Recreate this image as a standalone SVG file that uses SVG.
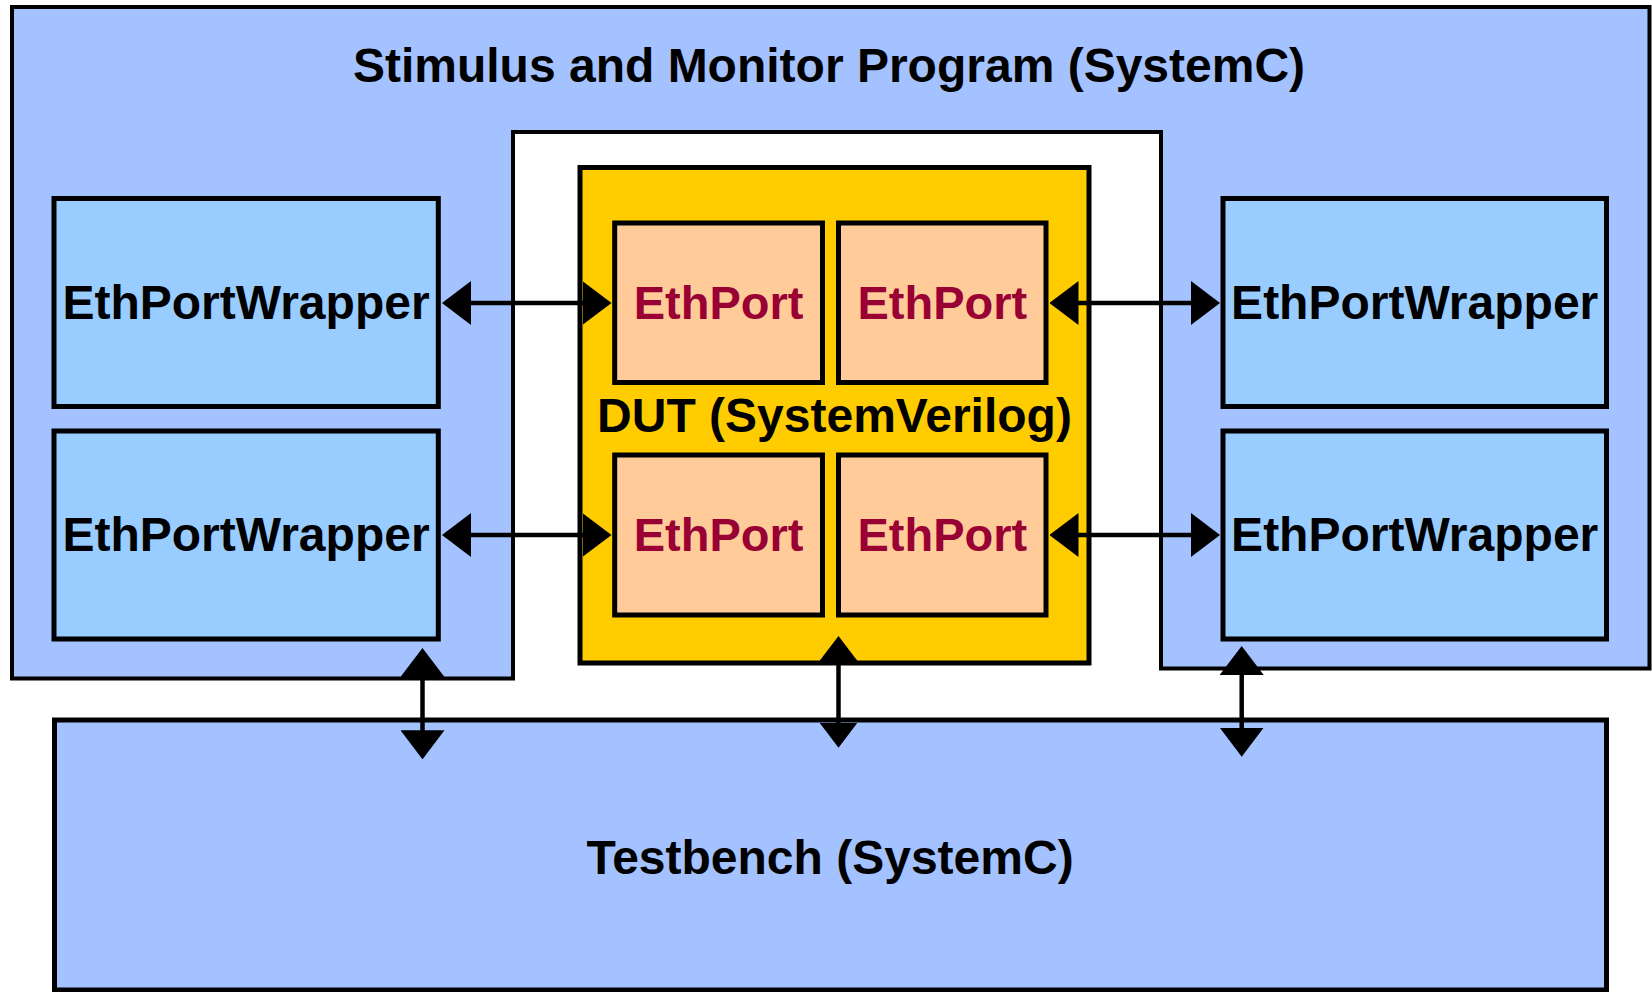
<svg xmlns="http://www.w3.org/2000/svg" width="1652" height="992" viewBox="0 0 1652 992">
  <style>
    .box { stroke: #000; stroke-width: 5; }
    .prog { fill: #A4C2FF; stroke: #000; stroke-width: 4; stroke-linejoin: miter; }
    .wrap { fill: #99CCFF; }
    .dut { fill: #FFCC00; }
    .port { fill: #FFCC99; }
    .tb { fill: #A4C2FF; }
    .lbl { font-family: "Liberation Sans", Arial, sans-serif; font-weight: bold; font-size: 48px; fill: #000; text-anchor: middle; }
    .plbl { font-family: "Liberation Sans", Arial, sans-serif; font-weight: bold; font-size: 47px; fill: #990033; text-anchor: middle; }
    .link { stroke: #000; stroke-width: 4.5; fill: none; }
  </style>
  <defs>
    <marker id="ah" viewBox="0 0 29 44" refX="26" refY="22" markerWidth="29" markerHeight="44" markerUnits="userSpaceOnUse" orient="auto-start-reverse">
      <path d="M0,0 L29,22 L0,44 z" fill="#000"/>
    </marker>
    <marker id="ahs" viewBox="0 0 25 38" refX="22" refY="19" markerWidth="25" markerHeight="38" markerUnits="userSpaceOnUse" orient="auto-start-reverse">
      <path d="M0,0 L25,19 L0,38 z" fill="#000"/>
    </marker>
  </defs>

  <rect width="1652" height="992" fill="#fff"/>

  <!-- stimulus / monitor program: outer frame with a notch around the DUT -->
  <g id="program">
    <path class="prog" d="M12,7 H1649.5 V668.5 H1161 V132 H513 V678.5 H12 Z"/>
    <text class="lbl" x="829" y="82">Stimulus and Monitor Program (SystemC)</text>
  </g>

  <g id="wrapper-l1">
    <rect class="box wrap" x="54" y="198.5" width="384.3" height="208"/>
    <text class="lbl" x="246" y="319">EthPortWrapper</text>
  </g>
  <g id="wrapper-l2">
    <rect class="box wrap" x="54" y="431" width="384.3" height="208"/>
    <text class="lbl" x="246" y="551">EthPortWrapper</text>
  </g>
  <g id="wrapper-r1">
    <rect class="box wrap" x="1223" y="198.5" width="383.5" height="208"/>
    <text class="lbl" x="1414.7" y="319">EthPortWrapper</text>
  </g>
  <g id="wrapper-r2">
    <rect class="box wrap" x="1223" y="431" width="383.5" height="208"/>
    <text class="lbl" x="1414.7" y="551">EthPortWrapper</text>
  </g>

  <g id="dut">
    <rect class="box dut" x="580" y="167.5" width="509" height="495.5"/>
    <text class="lbl" x="834.5" y="432">DUT (SystemVerilog)</text>
  </g>
  <g id="port-1">
    <rect class="box port" x="614.7" y="223" width="207.8" height="159.5"/>
    <text class="plbl" x="718.6" y="319">EthPort</text>
  </g>
  <g id="port-2">
    <rect class="box port" x="838.5" y="223" width="207.5" height="159.5"/>
    <text class="plbl" x="942.3" y="319">EthPort</text>
  </g>
  <g id="port-3">
    <rect class="box port" x="614.7" y="455" width="207.8" height="160"/>
    <text class="plbl" x="718.6" y="551">EthPort</text>
  </g>
  <g id="port-4">
    <rect class="box port" x="838.5" y="455" width="207.5" height="160"/>
    <text class="plbl" x="942.3" y="551">EthPort</text>
  </g>

  <g id="testbench">
    <rect class="box tb" x="54.5" y="720" width="1552" height="270"/>
    <text class="lbl" x="830" y="874">Testbench (SystemC)</text>
  </g>

  <!-- bidirectional links -->
  <g id="connectors">
    <line class="link" x1="445" y1="303" x2="608.5" y2="303" marker-start="url(#ah)" marker-end="url(#ah)"/>
    <line class="link" x1="445" y1="535" x2="608.5" y2="535" marker-start="url(#ah)" marker-end="url(#ah)"/>
    <line class="link" x1="1052.5" y1="303" x2="1217" y2="303" marker-start="url(#ah)" marker-end="url(#ah)"/>
    <line class="link" x1="1052.5" y1="535" x2="1217" y2="535" marker-start="url(#ah)" marker-end="url(#ah)"/>
    <line class="link" x1="422.5" y1="651" x2="422.5" y2="756.3" marker-start="url(#ah)" marker-end="url(#ah)"/>
    <line class="link" x1="838.5" y1="639" x2="838.5" y2="744.7" marker-start="url(#ahs)" marker-end="url(#ahs)"/>
    <line class="link" x1="1241.7" y1="649" x2="1241.7" y2="753.7" marker-start="url(#ah)" marker-end="url(#ah)"/>
  </g>
</svg>
